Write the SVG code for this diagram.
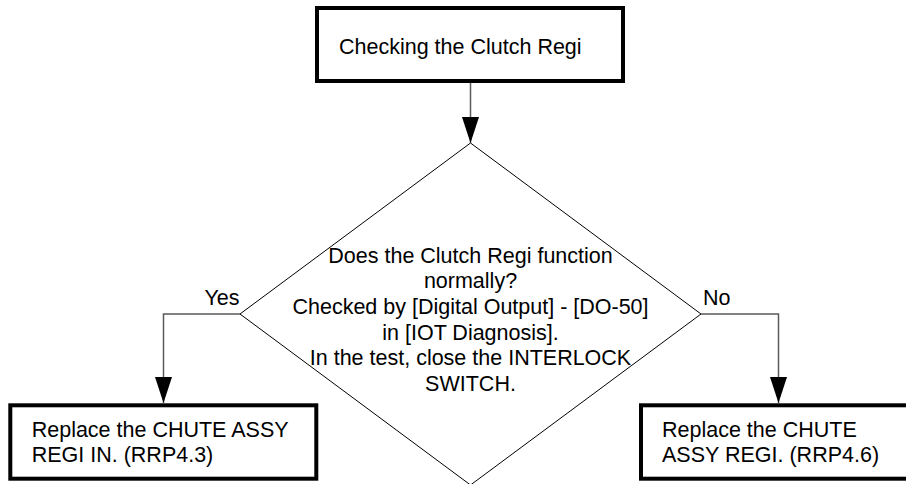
<svg xmlns="http://www.w3.org/2000/svg" width="906" height="484" viewBox="0 0 906 484">
  <style>
    .box { fill: #ffffff; stroke: #000000; stroke-width: 4; }
    .dia { fill: #ffffff; stroke: #000000; stroke-width: 1; }
    .conn { fill: none; stroke: #5a5a5a; stroke-width: 1.5; }
    .t { font-family: "Liberation Sans", Arial, sans-serif; font-size: 21.5px; fill: #000000; }
    .c { text-anchor: middle; }
  </style>
  <defs>
    <marker id="arr" viewBox="0 0 26 17" refX="26" refY="8.5" markerWidth="26" markerHeight="17" markerUnits="userSpaceOnUse" orient="auto">
      <path d="M0,0 L26,8.5 L0,17 z" fill="#000000"/>
    </marker>
  </defs>
  <rect width="906" height="484" fill="#ffffff"/>

  <g id="connectors">
    <path class="conn" d="M470.5,83 L470.5,143" marker-end="url(#arr)"/>
    <path class="conn" d="M240,314 L163.5,314 L163.5,403" marker-end="url(#arr)"/>
    <path class="conn" d="M701,314 L778.5,314 L778.5,403" marker-end="url(#arr)"/>
  </g>

  <g id="start">
    <rect class="box" x="317" y="8" width="306" height="73"/>
    <text class="t" x="339" y="54.3">Checking the Clutch Regi</text>
  </g>

  <g id="decision">
    <polygon class="dia" points="470.5,143 701,314 470.5,485 240,314"/>
    <text class="t c" x="470.5" y="262.5">Does the Clutch Regi function</text>
    <text class="t c" x="470.5" y="288.2">normally?</text>
    <text class="t c" x="470.5" y="314">Checked by [Digital Output] - [DO-50]</text>
    <text class="t c" x="470.5" y="339.7">in [IOT Diagnosis].</text>
    <text class="t c" x="470.5" y="365.4">In the test, close the INTERLOCK</text>
    <text class="t c" x="470.5" y="391.1">SWITCH.</text>
  </g>

  <g id="label-yes">
    <text class="t" x="204.5" y="305">Yes</text>
  </g>
  <g id="label-no">
    <text class="t" x="703" y="304.5">No</text>
  </g>

  <g id="replace-regi-in">
    <rect class="box" x="10.3" y="405.3" width="306" height="73.4"/>
    <text class="t" x="31.7" y="436.7">Replace the CHUTE ASSY</text>
    <text class="t" x="31.7" y="462.4">REGI IN. (RRP4.3)</text>
  </g>

  <g id="replace-regi">
    <rect class="box" x="641" y="405.3" width="300" height="73.4"/>
    <text class="t" x="662" y="436.7">Replace the CHUTE</text>
    <text class="t" x="662" y="462.4">ASSY REGI. (RRP4.6)</text>
  </g>
</svg>
